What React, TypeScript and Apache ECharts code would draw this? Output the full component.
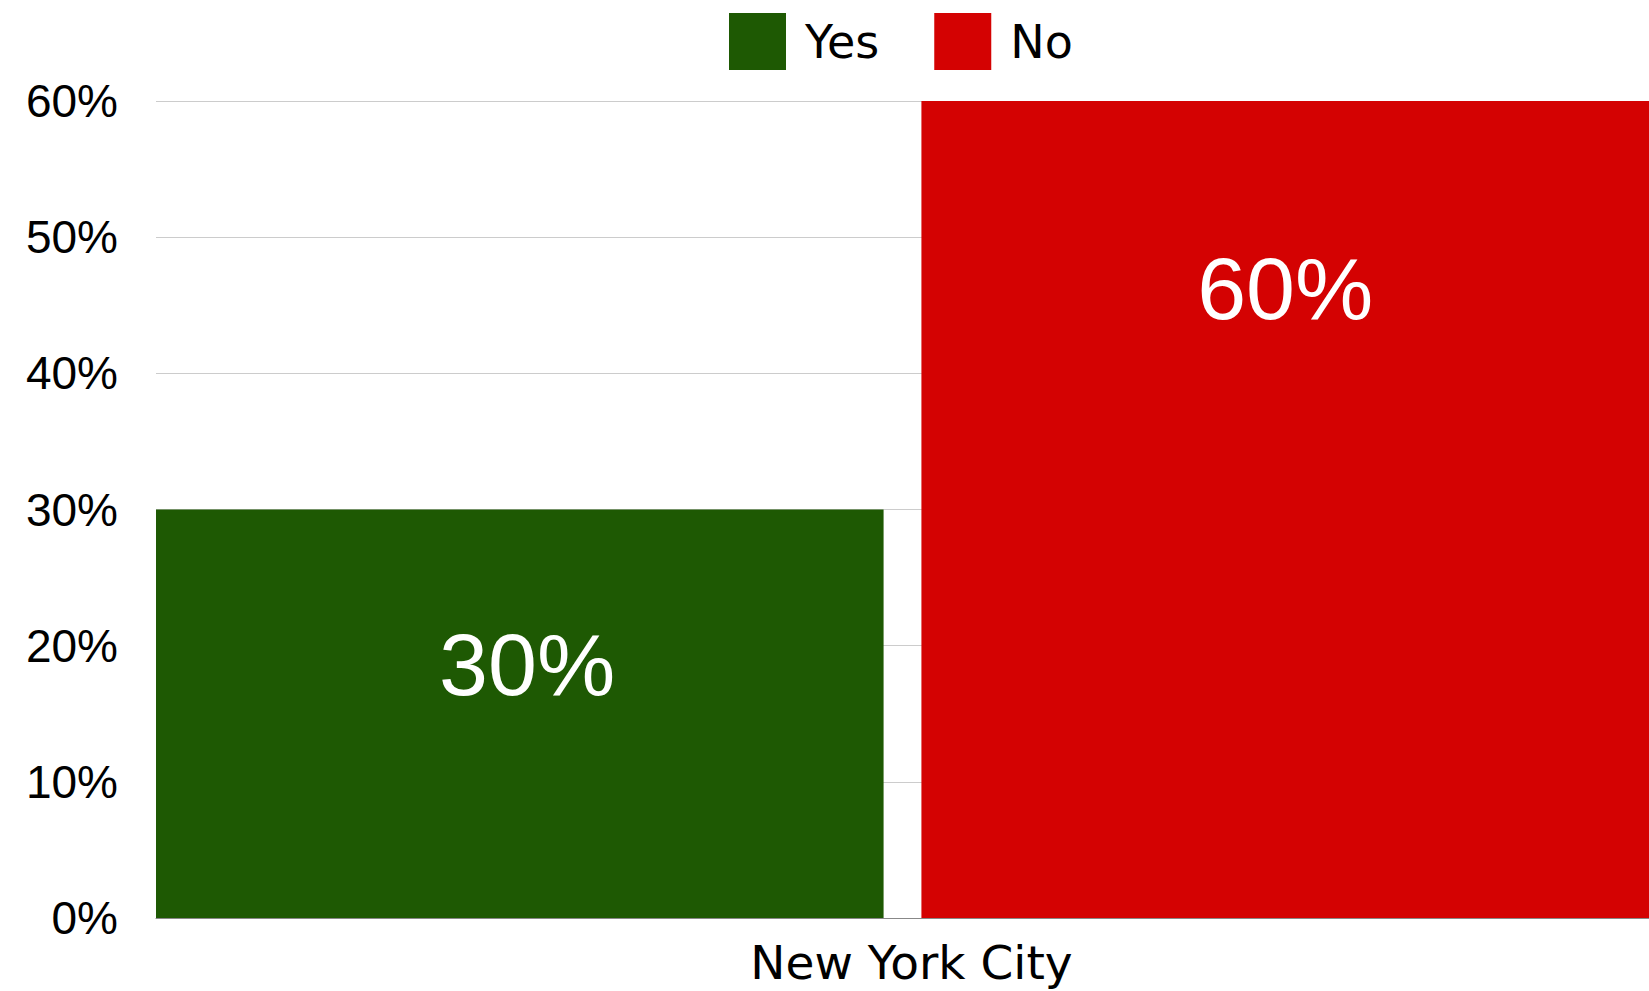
import React, { useEffect, useRef } from "react";
import * as echarts from "echarts";

const categories = ["New York City"];
const yesValues = [30];
const noValues = [60];
const seriesNames = ["Yes", "No"];
const yTicks = { min: 0, max: 60, interval: 10 };

export default function App() {
  const ref = useRef<HTMLDivElement>(null);
  useEffect(() => {
    if (!ref.current) return;
    const chart = echarts.init(ref.current, undefined, { renderer: "svg" });
    const labelFont = "'Liberation Sans', Arial, sans-serif";
    const textFont = "'DejaVu Sans', sans-serif";
    chart.setOption({
      animation: false,
      backgroundColor: "#ffffff",
      legend: {
        data: seriesNames,
        left: 729,
        top: 13,
        padding: 0,
        itemWidth: 57,
        itemHeight: 57,
        itemGap: 55,
        icon: "rect",
        textStyle: {
          fontSize: 46,
          color: "#000",
          fontFamily: textFont,
          padding: [0, 0, 0, 14],
        },
      },
      grid: { left: 156, right: 0, top: 101, bottom: 73, containLabel: false },
      xAxis: {
        type: "category",
        data: categories,
        axisLine: { lineStyle: { color: "#888888", width: 1 } },
        axisTick: { show: false },
        axisLabel: {
          fontSize: 47,
          color: "#000",
          fontFamily: textFont,
          margin: 21,
          padding: [0, 0, 0, 18],
        },
      },
      yAxis: {
        type: "value",
        min: yTicks.min,
        max: yTicks.max,
        interval: yTicks.interval,
        axisLine: { show: false },
        axisTick: { show: false },
        splitLine: { lineStyle: { color: "#cccccc", width: 1 } },
        axisLabel: {
          formatter: "{value}%",
          fontSize: 46,
          color: "#000",
          fontFamily: labelFont,
          margin: 38,
        },
      },
      series: [
        {
          name: seriesNames[0],
          type: "bar",
          data: yesValues,
          barCategoryGap: "0%",
          barGap: "5.2%",
          itemStyle: { color: "#1e5903" },
          label: {
            show: true,
            position: ["51%", "38%"],
            align: "center",
            verticalAlign: "middle",
            formatter: "{c}%",
            color: "#fff",
            fontSize: 88,
            fontFamily: labelFont,
          },
        },
        {
          name: seriesNames[1],
          type: "bar",
          data: noValues,
          barCategoryGap: "0%",
          barGap: "5.2%",
          itemStyle: { color: "#d40202" },
          label: {
            show: true,
            position: ["50%", "23%"],
            align: "center",
            verticalAlign: "middle",
            formatter: "{c}%",
            color: "#fff",
            fontSize: 88,
            fontFamily: labelFont,
          },
        },
      ],
    });
    return () => chart.dispose();
  }, []);
  return (
    <div
      ref={ref}
      style={{ position: "absolute", left: 0, top: 0, width: 1649, height: 991 }}
    />
  );
}
